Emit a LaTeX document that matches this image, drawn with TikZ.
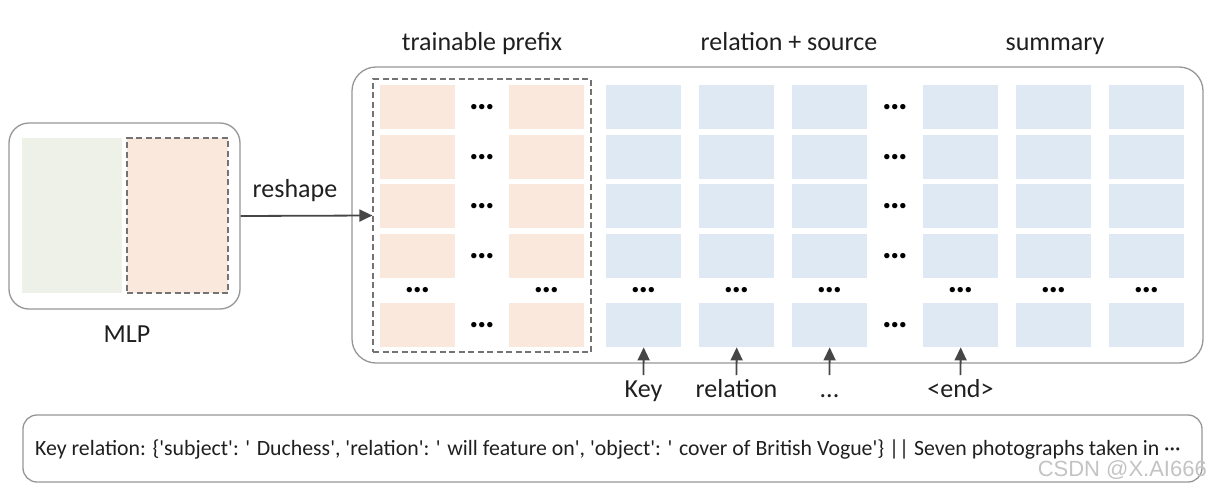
\documentclass[tikz,border=0pt]{standalone}
\usepackage{fontspec}
\setmainfont{Carlito}[Ligatures=TeXOff]
\newfontfamily\wmfont{Liberation Sans}
\usetikzlibrary{arrows.meta}
\definecolor{cellorange}{RGB}{251,232,220}
\definecolor{cellblue}{RGB}{222,233,243}
\definecolor{cellgreen}{RGB}{237,241,232}
\definecolor{boxgray}{RGB}{150,150,150}
\definecolor{dashgray}{RGB}{115,115,115}
\definecolor{arrowgray}{RGB}{70,70,70}
\definecolor{wmgray}{RGB}{195,195,195}
\begin{document}
\begin{tikzpicture}[x=1pt,y=-1pt,
  cellO/.style={fill=cellorange, draw=none, minimum width=75pt, minimum height=44pt, anchor=north west, inner sep=0pt},
  cellB/.style={fill=cellblue, draw=none, minimum width=75pt, minimum height=44pt, anchor=north west, inner sep=0pt},
  lbl/.style={font=\fontsize{26}{30}\selectfont, text=black!88, inner sep=0pt, anchor=base},
  dotsty/.style={font=\bfseries\fontsize{36}{40}\selectfont, inner sep=0pt},
  arr/.style={-{Triangle[length=13pt,width=12pt]}, line width=1.8pt, draw=arrowgray},
  outerbox/.style={draw=boxgray, line width=1.3pt, inner sep=0pt},
  dashbox/.style={draw=dashgray, line width=1.2pt, dash pattern=on 6pt off 3.5pt, inner sep=0pt}
]
\useasboundingbox (0,0) rectangle (1209,490);

% MLP block
\node[outerbox, rounded corners=20pt, minimum width=231pt, minimum height=186pt] (mlp) at (124.5,216) {};
\node[fill=cellgreen, inner sep=0pt, minimum width=100pt, minimum height=155pt] (mlpg) at (72,215.5) {};
\node[dashbox, fill=cellorange, minimum width=101pt, minimum height=155pt] (mlpo) at (177.5,215.5) {};
\node[lbl] (mlplbl) at (127,342) {MLP};

% big container
\node[outerbox, rounded corners=24pt, minimum width=851pt, minimum height=296pt] (big) at (777.5,215) {};
\node[dashbox, minimum width=218pt, minimum height=273pt] (prefix) at (482,215.5) {};

% titles
\node[lbl] (t1) at (482,50) {trainable prefix};
\node[lbl] (t2) at (789,50) {relation + source};
\node[lbl] (t3) at (1055,50) {summary};

% cells
\foreach \x [count=\i] in {380,509} {
  \foreach \y [count=\j] in {85,135,184,234,303} {
    \node[cellO] (o\i-\j) at (\x,\y) {};
  }
}
\foreach \x [count=\i] in {606,699,792,923,1016,1109} {
  \foreach \y [count=\j] in {85,135,184,234,303} {
    \node[cellB] (b\i-\j) at (\x,\y) {};
  }
}

% horizontal dots
\foreach \y [count=\j] in {107,157,206,256,325} {
  \node[dotsty] (od\j) at (482,\y) {…};
  \node[dotsty] (bd\j) at (895,\y) {…};
}
% vertical-gap dots
\foreach \x [count=\k] in {417.5,546.5,643.5,736.5,829.5,960.5,1053.5,1146.5} {
  \node[dotsty] (vd\k) at (\x,290) {…};
}

% reshape arrow
\node[lbl] (reshape) at (295,197) {reshape};
\draw[arr] (mlp.east) -- (prefix.west);

% bottom arrows
\coordinate (a1) at (643.5,375);
\coordinate (a2) at (736.5,375);
\coordinate (a3) at (829.5,375);
\coordinate (a4) at (960.5,375);
\draw[arr] (a1) -- (b1-5.south);
\draw[arr] (a2) -- (b2-5.south);
\draw[arr] (a3) -- (b3-5.south);
\draw[arr] (a4) -- (b4-5.south);
\node[lbl] (l1) at (643.5,397) {Key};
\node[lbl] (l2) at (736.5,397) {relation};
\node[lbl] (l3) at (829.5,397) {...};
\node[lbl] (l4) at (960.5,397) {<end>};

% bottom text box
\node[outerbox, rounded corners=14pt, minimum width=1179pt, minimum height=67pt] (textbox) at (612.5,448.5) {};
\node[font=\fontsize{21.8}{25}\selectfont, text=black!88, anchor=base west, inner sep=0pt] (sentence) at (35,455)
  {Key relation: \{'subject': ' Duchess', 'relation': ' will feature on', 'object': ' cover of British Vogue'\} || Seven photographs taken in ···};

% watermark
\node[font=\wmfont\fontsize{22}{26}\selectfont, text=wmgray, anchor=east, inner sep=0pt] (wm) at (1207,470.5) {CSDN @X.AI666};
\end{tikzpicture}
\end{document}
